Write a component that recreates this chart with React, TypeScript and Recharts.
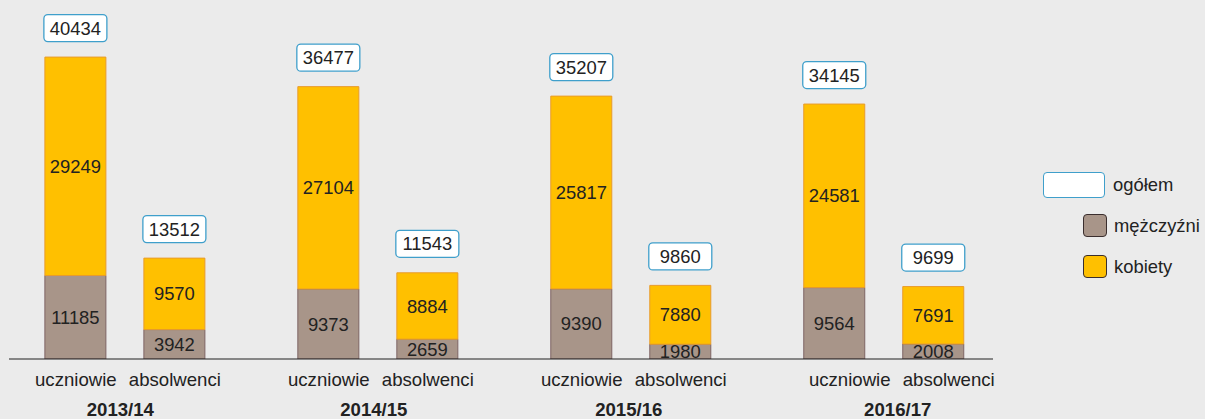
import React from 'react';
import { BarChart, Bar, XAxis, YAxis, LabelList, Legend } from 'recharts';

const years = ['2013/14', '2014/15', '2015/16', '2016/17'];
const groupLabels = ['uczniowie', 'absolwenci'];
const pupilsMen = [11185, 9373, 9390, 9564];
const pupilsWomen = [29249, 27104, 25817, 24581];
const gradsMen = [3942, 2659, 1980, 2008];
const gradsWomen = [9570, 8884, 7880, 7691];
const legendLabels = ['ogółem', 'mężczyźni', 'kobiety'];

const data = years.map((year, i) => ({
  x: i,
  year,
  uMen: pupilsMen[i],
  uWomen: pupilsWomen[i],
  uTotal: pupilsMen[i] + pupilsWomen[i],
  aMen: gradsMen[i],
  aWomen: gradsWomen[i],
  aTotal: gradsMen[i] + gradsWomen[i],
}));

const FONT = '"Liberation Sans", Arial, sans-serif';
const TEXT = '#222';
const WOMEN = '#FFC000';
const WOMEN_STROKE = '#E89B2C';
const MEN = '#A89589';
const MEN_STROKE = '#7E6464';
const BOX_STROKE = '#3f9fcb';

const BAR_SIZE = 61;
const BAR_GAP = 38;
const HALF = (BAR_SIZE + BAR_GAP) / 2;
const labelNudge = [0, 0, 0, 15];
const yearNudge = [-5, -4.5, -2.5, 13.5];

const Tick = (props: any) => {
  const { x, y, payload } = props;
  const i = Math.round(Number(payload.value));
  const cx = Number(x);
  const cy = Number(y);
  return (
    <g fontFamily={FONT} fill={TEXT}>
      <text x={cx - HALF + labelNudge[i]} y={cy + 27} textAnchor="middle" fontSize={18.6} fill={TEXT}>
        {groupLabels[0]}
      </text>
      <text x={cx + HALF + labelNudge[i]} y={cy + 27} textAnchor="middle" fontSize={18.6} fill={TEXT}>
        {groupLabels[1]}
      </text>
      <text x={cx + yearNudge[i]} y={cy + 57} textAnchor="middle" fontSize={18.6} fontWeight="bold" fill={TEXT}>
        {years[i]}
      </text>
    </g>
  );
};

const TotalLabel = (props: any) => {
  const x = Number(props.x);
  const y = Number(props.y);
  const width = Number(props.width);
  const bh = 27;
  const bx = x - 1;
  const by = y - 15.5 - bh;
  return (
    <g>
      <rect x={bx} y={by} width={width + 2} height={bh} rx={4} ry={4} fill="#fff" stroke={BOX_STROKE} strokeWidth={1.3} />
      <text
        x={x + width / 2}
        y={by + bh / 2}
        textAnchor="middle"
        dominantBaseline="central"
        fontSize={18.4}
        fontFamily={FONT}
        fill={TEXT}
      >
        {props.value}
      </text>
    </g>
  );
};

const LegendContent = () => {
  const rowStyle: React.CSSProperties = {
    display: 'flex',
    alignItems: 'center',
    height: 41,
    fontFamily: FONT,
    fontSize: 18.4,
    color: TEXT,
  };
  return (
    <div>
      <div style={rowStyle}>
        <div
          style={{
            width: 62,
            height: 26,
            background: '#fff',
            border: `1.3px solid ${BOX_STROKE}`,
            borderRadius: 4,
            marginRight: 8,
            boxSizing: 'border-box',
          }}
        />
        <span>{legendLabels[0]}</span>
      </div>
      <div style={rowStyle}>
        <div
          style={{
            width: 24,
            height: 23,
            marginLeft: 40,
            background: MEN,
            border: '1.3px solid #3a2e2e',
            borderRadius: 4,
            marginRight: 7,
            boxSizing: 'border-box',
          }}
        />
        <span>{legendLabels[1]}</span>
      </div>
      <div style={rowStyle}>
        <div
          style={{
            width: 24,
            height: 23,
            marginLeft: 40,
            background: WOMEN,
            border: '1.3px solid #3a2e2e',
            borderRadius: 4,
            marginRight: 7,
            boxSizing: 'border-box',
          }}
        />
        <span>{legendLabels[2]}</span>
      </div>
    </div>
  );
};

const valueLabelProps = {
  position: 'center' as const,
  fill: TEXT,
  fontSize: 18.4,
  fontFamily: FONT,
};

export default function App() {
  return (
    <div
      style={{
        position: 'absolute',
        left: 0,
        top: 0,
        width: 1205,
        height: 419,
        background: '#ebebeb',
        fontFamily: FONT,
      }}
    >
      <BarChart
        width={1205}
        height={419}
        data={data}
        margin={{ top: 23, right: 212, bottom: 0, left: 9 }}
        barGap={BAR_GAP}
        barSize={BAR_SIZE}
      >
        <XAxis
          dataKey="x"
          type="number"
          domain={[-0.46, 3.43]}
          ticks={[0, 1, 2, 3]}
          interval={0}
          allowDataOverflow
          tickLine={false}
          tickSize={0}
          tickMargin={0}
          axisLine={{ stroke: '#222', strokeWidth: 1.2 }}
          height={60}
          tick={<Tick />}
        />
        <YAxis hide width={0} domain={[0, 45000]} allowDataOverflow />
        <Legend
          layout="vertical"
          align="center"
          verticalAlign="middle"
          content={<LegendContent />}
          wrapperStyle={{ left: 1043, top: 164, width: 165 }}
        />
        <Bar dataKey="uMen" stackId="u" fill={MEN} stroke={MEN_STROKE} strokeWidth={1} isAnimationActive={false}>
          <LabelList dataKey="uMen" {...valueLabelProps} />
        </Bar>
        <Bar dataKey="uWomen" stackId="u" fill={WOMEN} stroke={WOMEN_STROKE} strokeWidth={1} isAnimationActive={false}>
          <LabelList dataKey="uWomen" {...valueLabelProps} />
          <LabelList dataKey="uTotal" content={<TotalLabel />} />
        </Bar>
        <Bar dataKey="aMen" stackId="a" fill={MEN} stroke={MEN_STROKE} strokeWidth={1} isAnimationActive={false}>
          <LabelList dataKey="aMen" {...valueLabelProps} />
        </Bar>
        <Bar dataKey="aWomen" stackId="a" fill={WOMEN} stroke={WOMEN_STROKE} strokeWidth={1} isAnimationActive={false}>
          <LabelList dataKey="aWomen" {...valueLabelProps} />
          <LabelList dataKey="aTotal" content={<TotalLabel />} />
        </Bar>
      </BarChart>
    </div>
  );
}
